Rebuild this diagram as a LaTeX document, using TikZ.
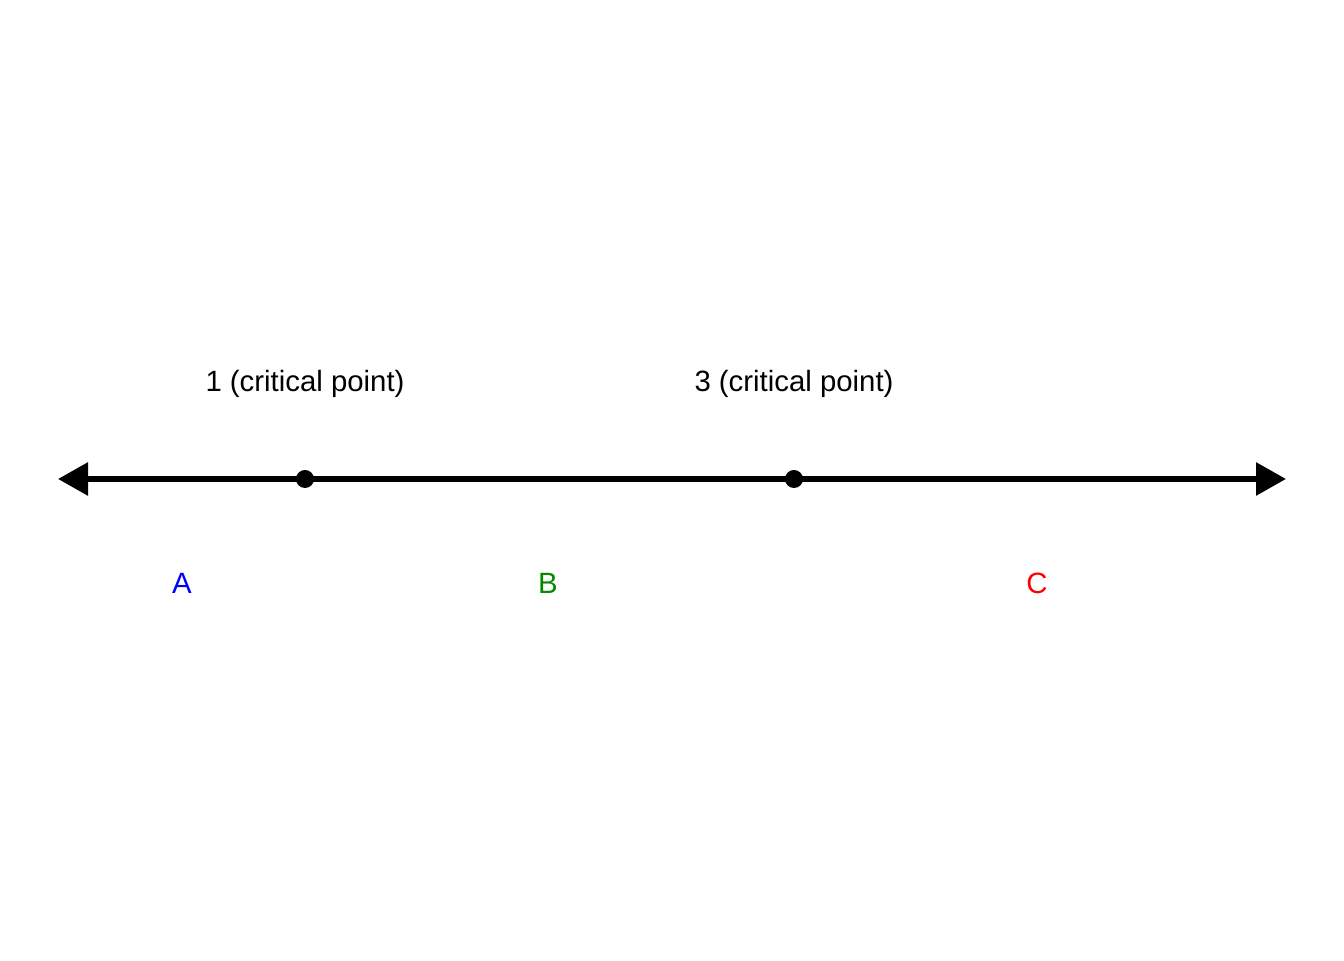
\documentclass[tikz,border=0pt]{standalone}
\usepackage{fontspec}
\setmainfont{Liberation Sans}
\usetikzlibrary{arrows.meta,positioning}
\definecolor{regiongreen}{RGB}{0,139,0}

\begin{document}
\begin{tikzpicture}[>={Triangle[length=0.6cm,width=0.64cm]}]
    %\draw[step=1,help lines] (0,0) grid (26.88,19.2);
    \useasboundingbox (0,0) rectangle (26.88,19.2);
    \tikzset{lbl/.style={anchor=base,font=\fontsize{16.7}{20}\selectfont},
             dot/.style={circle,fill=black,inner sep=0,minimum size=0.36cm}}

    \coordinate (left) at (1.16,9.62);
    \coordinate (right) at (25.72,9.62);
    \draw[line width=3.4pt,<->] (left) to (right);

    \node[dot] (p1) at (6.10,9.62) {};
    \node[dot] (p3) at (15.88,9.62) {};

    \node[lbl] (cp1) at (6.10,11.36) {1 (critical point)};
    \node[lbl] (cp3) at (15.88,11.36) {3 (critical point)};

    \node[lbl,text=blue] (regA) at (3.64,7.32) {A};
    \node[lbl,text=regiongreen] (regB) at (10.96,7.32) {B};
    \node[lbl,text=red] (regC) at (20.74,7.32) {C};

\end{tikzpicture}
\end{document}
